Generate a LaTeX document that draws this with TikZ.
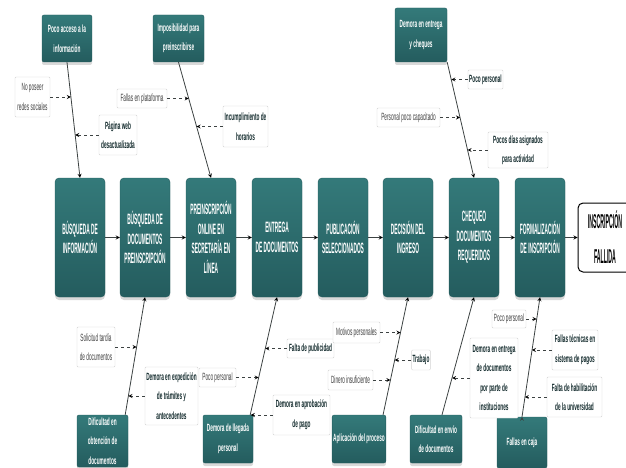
\documentclass[tikz,border=0pt]{standalone}
\usepackage{fontspec}
\setmainfont{Liberation Sans}
\newfontfamily\boxfont{Liberation Sans}[FakeStretch=0.32]
\newfontfamily\subfont{Liberation Sans}[FakeStretch=0.45]
\newfontfamily\resfont{Liberation Sans}[FakeStretch=0.26]
\usepackage{tikz}
\usetikzlibrary{shadows}
\definecolor{tealtop}{RGB}{52,122,122}
\definecolor{tealbot}{RGB}{36,92,94}
\definecolor{boneline}{RGB}{60,66,66}
\definecolor{darktext}{RGB}{18,42,44}

\begin{document}
\begin{tikzpicture}[x=1pt,y=-1pt,
    main node/.style={rectangle,rounded corners=4pt,top color=tealtop,bottom color=tealbot,draw=tealbot,text=white,
      minimum width=50pt,minimum height=119pt,inner sep=1pt,align=center,
      font=\boxfont\bfseries\fontsize{15}{19.5}\selectfont,
      drop shadow={opacity=0.3,shadow xshift=0pt,shadow yshift=-3pt}},
    cause node/.style={rectangle,rounded corners=2pt,top color=tealtop,bottom color=tealbot,draw=tealbot,text=white,
      inner sep=1pt,align=center,font=\subfont\bfseries\fontsize{10.5}{19.5}\selectfont,
      drop shadow={opacity=0.3,shadow xshift=0pt,shadow yshift=-3pt}},
    sub node/.style={rectangle,rounded corners=1pt,draw=gray!35,fill=white,text=black!75,
      inner sep=1pt,align=center,font=\subfont\fontsize{10.5}{19.5}\selectfont},
    bold node/.style={sub node,text=darktext,font=\subfont\bfseries\fontsize{10.5}{19.5}\selectfont},
    result node/.style={rectangle,rounded corners=5pt,draw=black,line width=1pt,fill=white,
      minimum width=54pt,minimum height=69pt,inner sep=1pt,align=center,font=\resfont\bfseries\fontsize{20}{35}\selectfont},
    flow/.style={draw=boneline,line width=0.8pt,-stealth},
    bone/.style={draw=boneline,line width=0.8pt,-stealth},
    cue/.style={draw=boneline,line width=0.8pt,dashed,-stealth}]
  \useasboundingbox (0,0) rectangle (626,468);

  % proceso
  \node[main node] (p1) at (80,237.5) {BÚSQUEDA DE\\INFORMACIÓN};
  \node[main node] (p2) at (145,237.5) {BÚSQUEDA DE\\DOCUMENTOS\\PREINSCRIPCIÓN};
  \node[main node] (p3) at (211,237.5) {PREINSCRIPCIÓN\\ONLINE EN\\SECRETARÍA EN\\LÍNEA};
  \node[main node] (p4) at (277,237.5) {ENTREGA\\DE DOCUMENTOS};
  \node[main node] (p5) at (343,237.5) {PUBLICACIÓN\\SELECCIONADOS};
  \node[main node] (p6) at (408,237.5) {DECISIÓN DEL\\INGRESO};
  \node[main node] (p7) at (474,237.5) {CHEQUEO\\DOCUMENTOS\\REQUERIDOS};
  \node[main node] (p8) at (540,237.5) {FORMALIZACIÓN\\DE INSCRIPCIÓN};
  \node[result node] (res) at (605,237.5) {INSCRIPCIÓN\\FALLIDA};
  \path[flow]
    (p1) edge (p2)
    (p2) edge (p3)
    (p3) edge (p4)
    (p4) edge (p5)
    (p5) edge (p6)
    (p6) edge (p7)
    (p7) edge (p8)
    (p8) edge (res);

  % causas arriba
  \node[cause node,minimum width=50,minimum height=47] (tc1) at (67,38.5) {Poco acceso a la\\información};
  \node[cause node,minimum width=51,minimum height=47] (tc2) at (178.5,38.5) {Imposibilidad para\\preinscribirse};
  \node[cause node,minimum width=52,minimum height=54] (tc3) at (421,35) {Demora en entrega\\y cheques};

  % causas abajo
  \node[cause node,minimum width=51,minimum height=52] (bc1) at (102.5,441) {Dificultad en\\obtención de\\documentos};
  \node[cause node,minimum width=50,minimum height=48] (bc2) at (228,439) {Demora de llegada\\personal};
  \node[cause node,minimum width=52,minimum height=48] (bc3) at (359,439) {Aplicación del proceso};
  \node[cause node,minimum width=52,minimum height=48] (bc4) at (436,439) {Dificultad en envío\\de documentos};
  \node[cause node,minimum width=50,minimum height=51] (bc5) at (522,442.5) {Fallas en caja};

  \path[bone]
    (tc1.south) edge (p1.north)
    (tc2.south) edge (p3.north)
    (tc3.south east) edge (p7.north)
    ([xshift=-3pt]bc1.north east) edge (p2.south)
    ([xshift=-3pt]bc2.north east) edge (p4.south)
    ([xshift=-3pt]bc3.north east) edge (p6.south)
    ([xshift=6pt]bc4.north) edge (p7.south)
    (bc5.north) edge (p8.south);

  % puntos sobre las espinas
  \path (tc1.south) -- (p1.north) coordinate[pos=.30] (k1) coordinate[pos=.63] (k2);
  \path (tc2.south) -- (p3.north) coordinate[pos=.315] (k3) coordinate[pos=.556] (k4);
  \path (tc3.south east) -- (p7.north) coordinate[pos=.478] (k5) coordinate[pos=.151] (k6) coordinate[pos=.759] (k7);
  \path ([xshift=-3pt]bc1.north east) -- (p2.south) coordinate[pos=.576] (k8) coordinate[pos=.161] (k9);
  \path ([xshift=-3pt]bc2.north east) -- (p4.south) coordinate[pos=.318] (k10) coordinate[pos=.564] (k11) coordinate[pos=.02] (k12);
  \path ([xshift=-3pt]bc3.north east) -- (p6.south) coordinate[pos=.699] (k13) coordinate[pos=.466] (k14) coordinate[pos=.297] (k15);
  \path ([xshift=6pt]bc4.north) -- (p7.south) coordinate[pos=.314] (k16);
  \path (bc5.north) -- (p8.south) coordinate[pos=.814] (k17) coordinate[pos=.551] (k18) coordinate[pos=.153] (k19);

  % subcausas arriba
  \node[sub node,minimum width=35,minimum height=40] (s1) at (32.5,97) {No poseer\\redes sociales};
  \node[bold node,minimum width=38,minimum height=40] (s2) at (118,135) {Página web\\desactualizada};
  \node[sub node,minimum width=50,minimum height=19] (s3) at (142,98.5) {Fallas en plataforma};
  \node[bold node,minimum width=45,minimum height=41] (s4) at (245.5,126.5) {Incumplimiento de\\horarios};
  \node[sub node,minimum width=63,minimum height=19] (s5) at (408.5,117.5) {Personal poco capacitado};
  \node[bold node,minimum width=35,minimum height=19] (s6) at (485.5,79.5) {Poco personal};
  \node[bold node,minimum width=60,minimum height=36] (s7) at (518,150) {Pocos días asignados\\para actividad};

  % subcausas abajo
  \node[sub node,minimum width=38,minimum height=40] (s8) at (96,347) {Solicitud tardía\\de documentos};
  \node[bold node,minimum width=53,minimum height=58] (s9) at (171.5,396) {Demora en expedición\\de trámites y\\antecedentes};
  \node[sub node,minimum width=37,minimum height=19] (s10) at (217.5,377.5) {Poco personal};
  \node[bold node,minimum width=47,minimum height=19] (s11) at (310.5,348.5) {Falta de publicidad};
  \node[bold node,minimum width=57,minimum height=40] (s12) at (301.5,415) {Demora en aprobación\\de pago};
  \node[sub node,minimum width=47,minimum height=21] (s13) at (356.5,332.5) {Motivos personales};
  \node[bold node,minimum width=18,minimum height=20] (s14) at (421,360) {Trabajo};
  \node[sub node,minimum width=45,minimum height=20] (s15) at (350.5,380) {Dinero insuficiente};
  \node[bold node,minimum width=48,minimum height=80] (s16) at (494,378) {Demora en entrega\\de documentos\\por parte de\\instituciones};
  \node[sub node,minimum width=34,minimum height=18] (s17) at (509,319) {Poco personal};
  \node[bold node,minimum width=46,minimum height=40] (s18) at (575,350) {Fallas técnicas en\\sistema de pagos};
  \node[bold node,minimum width=55,minimum height=40] (s19) at (574.5,397) {Falta de habilitación\\de la universidad};

  \path[cue]
    (s1) edge (s1 -| k1)
    (s2) edge (s2 -| k2)
    (s3) edge (s3 -| k3)
    (s4) edge (s4 -| k4)
    (s5) edge (s5 -| k5)
    (s6) edge (s6 -| k6)
    (s7) edge (s7 -| k7)
    (s8) edge (s8 -| k8)
    (s9) edge (s9 -| k9)
    (s10) edge (s10 -| k10)
    (s11) edge (s11 -| k11)
    (s12) edge (s12 -| k12)
    (s13) edge (s13 -| k13)
    (s14) edge (s14 -| k14)
    (s15) edge (s15 -| k15)
    (s16) edge (s16 -| k16)
    (s17) edge (s17 -| k17)
    (s18) edge (s18 -| k18)
    (s19) edge (s19 -| k19);
\end{tikzpicture}
\end{document}
